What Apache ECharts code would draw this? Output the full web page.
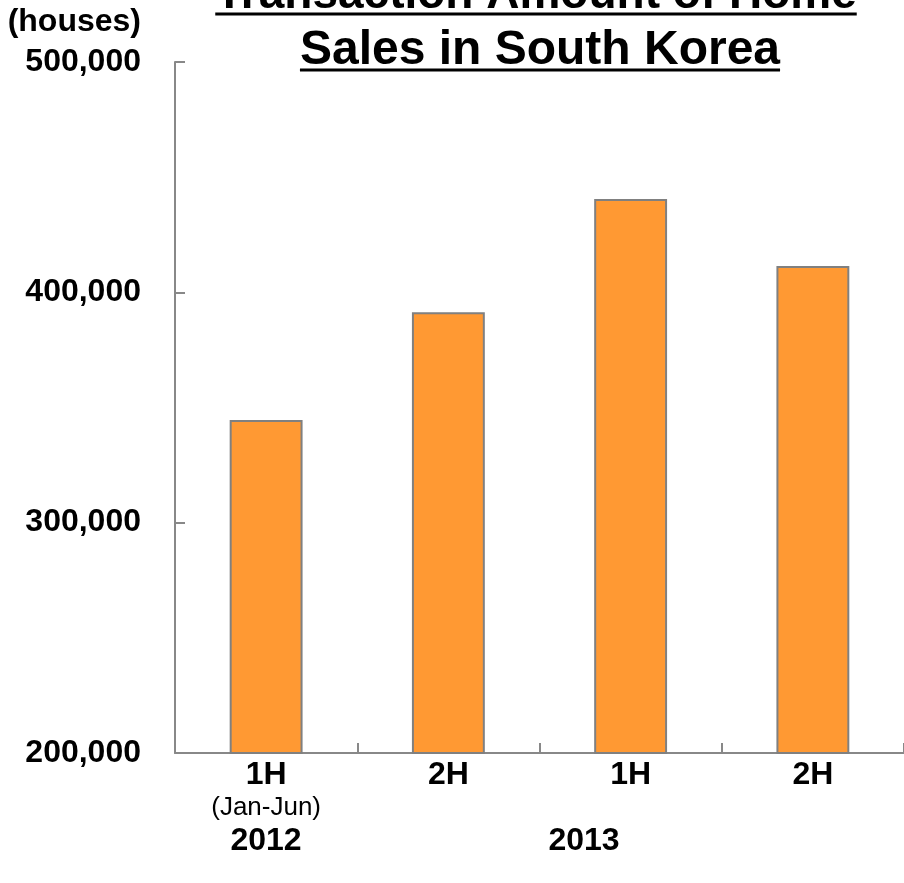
<!DOCTYPE html>
<html>
<head>
<meta charset="utf-8">
<style>
  html, body { margin: 0; padding: 0; background: #ffffff; }
  #chart { width: 904px; height: 883px; }
</style>
<script src="https://cdn.jsdelivr.net/npm/echarts@6/dist/echarts.min.js"></script>
</head>
<body>
<div id="chart"></div>
<script>
// ---- data ----
const titleLines = ['Transaction Amount of Home', 'Sales in South Korea'];
const unitLabel = '(houses)';
const categories = ['1H', '2H', '1H', '2H'];
const firstSubLabel = '(Jan-Jun)';
const years = ['2012', '2013'];
const salesValues = [344600, 391300, 440500, 411400];
const yMin = 200000, yMax = 500000, yStep = 100000;

const FONT = 'Arial, "Liberation Sans", Helvetica, sans-serif';
const TITLE_SIZES = [46, 48];

function textWidth(str, size, weight) {
  const c = document.createElement('canvas').getContext('2d');
  c.font = weight + ' ' + size + 'px ' + FONT;
  return c.measureText(str).width;
}
const titleCx = [536, 540];
const titleY = [-5, 51];
const underlineY = [14, 70];
const titleGraphics = [];
titleLines.forEach(function (t, i) {
  const w = textWidth(t, TITLE_SIZES[i], 'bold');
  titleGraphics.push({ type: 'text', x: titleCx[i], y: titleY[i], style: { text: t, fontFamily: FONT, fontSize: TITLE_SIZES[i], fontWeight: 'bold', fill: '#000', align: 'center', verticalAlign: 'middle' } });
  titleGraphics.push({ type: 'line', shape: { x1: titleCx[i] - w / 2, y1: underlineY[i], x2: titleCx[i] + w / 2, y2: underlineY[i] }, style: { stroke: '#000', lineWidth: 3 } });
});

const chart = echarts.init(document.getElementById('chart'), null, { renderer: 'canvas' });

const option = {
  backgroundColor: '#ffffff',
  animation: false,
  grid: { left: 175, right: 0, top: 62, bottom: 130, containLabel: false },
  xAxis: {
    type: 'category',
    data: categories,
    axisLine: { show: true, lineStyle: { color: '#888888', width: 2 } },
    axisTick: { show: true, inside: true, length: 10, alignWithLabel: false, lineStyle: { color: '#888888', width: 2 } },
    axisLabel: {
      margin: 5,
      interval: 0,
      formatter: function (v, i) {
        return i === 0 ? '{b|' + v + '}\n{s|' + firstSubLabel + '}' : '{b|' + v + '}';
      },
      rich: {
        b: { fontFamily: FONT, fontSize: 32, fontWeight: 'bold', color: '#000', lineHeight: 34 },
        s: { fontFamily: FONT, fontSize: 26, fontWeight: 'normal', color: '#000', lineHeight: 32 }
      }
    },
    splitLine: { show: false }
  },
  yAxis: {
    type: 'value',
    min: yMin, max: yMax, interval: yStep,
    name: unitLabel,
    nameLocation: 'end',
    nameGap: 40,
    nameTextStyle: { fontFamily: FONT, fontSize: 32, fontWeight: 'bold', color: '#000', align: 'right', verticalAlign: 'middle', padding: [0, 34, 0, 0] },
    axisLine: { show: true, lineStyle: { color: '#888888', width: 2 } },
    axisTick: { show: true, inside: true, length: 10, lineStyle: { color: '#888888', width: 2 } },
    axisLabel: {
      margin: 34,
      fontFamily: FONT, fontSize: 32, fontWeight: 'bold', color: '#000',
      formatter: function (v) { return v.toLocaleString('en-US'); }
    },
    splitLine: { show: false }
  },
  series: [{
    type: 'bar',
    data: salesValues,
    barWidth: '40%',
    itemStyle: { color: '#FF9933', borderColor: '#808080', borderWidth: 2 }
  }],
  graphic: titleGraphics.concat([
    { type: 'text', x: 266, y: 841, style: { text: years[0], fontFamily: FONT, fontSize: 32, fontWeight: 'bold', fill: '#000', align: 'center', verticalAlign: 'middle' } },
    { type: 'text', x: 584, y: 841, style: { text: years[1], fontFamily: FONT, fontSize: 32, fontWeight: 'bold', fill: '#000', align: 'center', verticalAlign: 'middle' } }
  ])
};
chart.setOption(option);
</script>
</body>
</html>
